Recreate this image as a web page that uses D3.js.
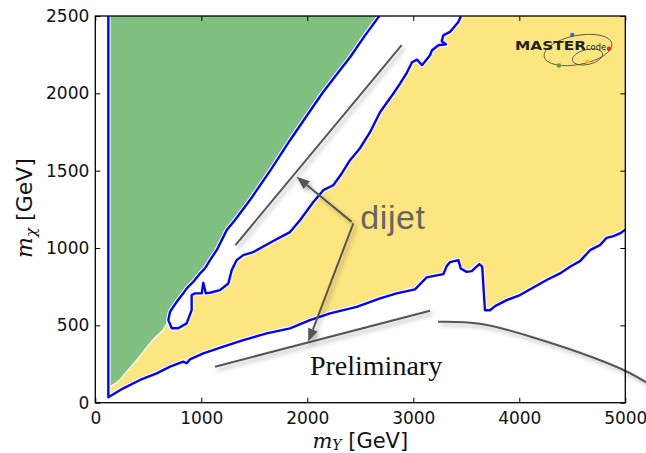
<!DOCTYPE html>
<html><head><meta charset="utf-8">
<script src="https://cdn.jsdelivr.net/npm/d3@7"></script>
<style>body{margin:0;background:#fff} svg{display:block}</style>
</head><body>
<script>
// ---------- data (GeV) ----------
const xTicks = [0, 1000, 2000, 3000, 4000, 5000];
const yTicks = [0, 500, 1000, 1500, 2000, 2500];

// vertical contour at m_Y ~ 123 GeV
const verticalEdge = [[123, 2500], [123, 35]];

// lower boundary of the yellow region (blue contour)
const lowerEdge = [[123,35],[264,93],[422,147],[579,190],[705,233],[830,265],[862,255],[893,280],
 [1019,319],[1208,362],[1396,405],[1617,448],[1837,481],[2025,534],[2214,578],[2466,620],
 [2686,674],[2843,707],[3016,733],[3126,810],[3283,831],[3315,883],[3347,909],[3425,922],
 [3447,868],[3504,846],[3551,851],[3623,896],[3650,880],[3676,598],[3724,598],[3771,624],
 [3881,663],[4007,696],[4132,745],[4258,793],[4384,836],[4478,879],[4573,915],[4667,986],
 [4761,1019],[4824,1066],[4887,1077],[4950,1094],[5000,1119]];

// white band: green-side contour (top -> bottom)
const bandGreenSide = [[2679,2500],[2540,2370],[2403,2233],[2275,2120],[2148,2007],[1990,1850],
 [1837,1697],[1650,1500],[1459,1310],[1318,1181],[1240,1116],[1208,1072],[1145,986],[1082,922],
 [1035,868],[988,836],[925,782],[862,739],[830,707],[768,652],[736,620],[705,588],[689,534]];
// bottom of the white hole
const bandBottom = [[721,481],[783,481],[862,513],[909,599],[909,696],[941,707],[1004,707],
 [1019,775],[1042,707],[1082,711],[1176,728],[1255,771],[1287,857],[1334,922],[1396,954]];
// yellow-side contour (bottom -> top)
const bandYellowSide = [[1491,974],[1679,1045],[1837,1103],[1931,1180],[2057,1297],[2151,1374],
 [2245,1406],[2325,1482],[2403,1568],[2497,1645],[2592,1749],[2686,1878],[2812,1999],[2875,2063],
 [2941,2136],[2988,2201],[3035,2218],[3082,2182],[3158,2246],[3177,2279],[3237,2311],[3308,2317],
 [3268,2337],[3283,2375],[3346,2397],[3425,2461],[3450,2500]];
// lower edge of the green region (no contour line)
const greenLowerEdge = [[689,534],[670,505],[640,470],[544,407],[393,278],[233,149],[190,125],[139,103],[123,103]];

// annotations (GeV coordinates)
const annoLines = [[[1322,1019],[2890,2311]], [[1129,233],[3158,594]]];
const arrows = [{from:[2419,1169], to:[1900,1460]}, {from:[2434,1159], to:[2009,394]}];
const annoArc = [[3233,523],[3629,510],[4101,428],[4572,323],[4978,213],[5230,118]];
const dijetPos = [2500,1122];
const prelimPos = [2025,179];

// ---------- chart ----------
const W = 646, H = 453;
const x = d3.scaleLinear().domain([0, 5000]).range([95.3, 625.3]);
const y = d3.scaleLinear().domain([0, 2500]).range([402.7, 16]);
const line = d3.line().x(d => x(d[0])).y(d => y(d[1]));

const svg = d3.select("body").append("svg").attr("width", W).attr("height", H);
const defs = svg.append("defs");
defs.append("clipPath").attr("id", "clip").append("rect")
  .attr("x", x(0)).attr("y", y(2500)).attr("width", x(5000) - x(0)).attr("height", y(0) - y(2500));
const f = defs.append("filter").attr("id", "shadow").attr("x", "-20%").attr("y", "-20%").attr("width", "140%").attr("height", "140%");
f.append("feDropShadow").attr("dx", 2.5).attr("dy", 3).attr("stdDeviation", 2)
  .attr("flood-color", "#000").attr("flood-opacity", 0.3);

const plot = svg.append("g").attr("clip-path", "url(#clip)");

// yellow region
plot.append("path").attr("d", line([...lowerEdge, [5000, 2500], [123, 2500]]) + "Z")
  .attr("fill", "#fde680");
// white band / hole
plot.append("path").attr("d", line([...bandGreenSide, ...bandBottom, ...bandYellowSide]) + "Z")
  .attr("fill", "#fff");
// green region
plot.append("path").attr("d", line([[123, 2500], ...bandGreenSide, ...greenLowerEdge.slice(1)]) + "Z")
  .attr("fill", "#80c080");
plot.append("path").attr("d", line(greenLowerEdge)).attr("fill", "none")
  .attr("stroke", "#fff").attr("stroke-width", 1.3);

// blue contours with white halo
const contours = [[...verticalEdge, ...lowerEdge.slice(1)], [...bandGreenSide, ...bandBottom, ...bandYellowSide]];
contours.forEach(c => {
  plot.append("path").attr("d", line(c)).attr("fill", "none").attr("stroke", "#fff")
    .attr("stroke-width", 4.5).attr("stroke-linejoin", "round");
});
contours.forEach(c => {
  plot.append("path").attr("d", line(c)).attr("fill", "none").attr("stroke", "#0000ff")
    .attr("stroke-width", 2.4).attr("stroke-linejoin", "round");
});

// ---------- logo ----------
const logo = svg.append("g");
logo.append("ellipse").attr("cx", 578).attr("cy", 50).attr("rx", 34.5).attr("ry", 14.5)
  .attr("transform", "rotate(-11 578 50)").attr("fill", "none").attr("stroke", "#5a5a40").attr("stroke-width", 0.9);
logo.append("ellipse").attr("cx", 587.5).attr("cy", 57).attr("rx", 15.5).attr("ry", 7.5)
  .attr("transform", "rotate(-13 587.5 57)").attr("fill", "none").attr("stroke", "#5a5a40").attr("stroke-width", 0.9);
const lt = logo.append("text").attr("x", 515).attr("y", 49.5).attr("font-family", "DejaVu Sans").attr("fill", "#222");
lt.append("tspan").attr("font-size", 12.5).attr("font-weight", "bold").attr("textLength", 71).attr("lengthAdjust", "spacingAndGlyphs").text("MASTER");
lt.append("tspan").attr("font-size", 8).attr("textLength", 20).attr("lengthAdjust", "spacingAndGlyphs").text("code");
[[572.3,35,"#3d6eb4"],[609,48.7,"#d8302c"],[559,65.5,"#5ea03c"],[587.7,61.7,"#f2c21c"]].forEach(d => {
  logo.append("circle").attr("cx", d[0]).attr("cy", d[1]).attr("r", 2.2).attr("fill", d[2]);
});

// ---------- annotations ----------
const anno = svg.append("g").attr("filter", "url(#shadow)");
annoLines.forEach(l => anno.append("path").attr("d", line(l)).attr("stroke", "#555").attr("stroke-width", 2).attr("fill", "none"));
anno.append("path").attr("d", d3.line().curve(d3.curveNatural).x(d => x(d[0])).y(d => y(d[1]))(annoArc))
  .attr("stroke", "#555").attr("stroke-width", 2).attr("fill", "none");
arrows.forEach(a => {
  const x0 = x(a.from[0]), y0 = y(a.from[1]), x1 = x(a.to[0]), y1 = y(a.to[1]);
  const ang = Math.atan2(y1 - y0, x1 - x0), L = 13, Wd = 5;
  const bx = x1 - L * Math.cos(ang), by = y1 - L * Math.sin(ang);
  anno.append("line").attr("x1", x0).attr("y1", y0).attr("x2", bx).attr("y2", by)
    .attr("stroke", "#555").attr("stroke-width", 2);
  const px = -Math.sin(ang) * Wd, py = Math.cos(ang) * Wd;
  anno.append("path").attr("d", `M${x1},${y1}L${bx + px},${by + py}L${bx - px},${by - py}Z`).attr("fill", "#555");
});
svg.append("text").attr("x", x(dijetPos[0])).attr("y", y(dijetPos[1]))
  .attr("font-family", "Liberation Sans, Arial, sans-serif").attr("font-size", 34).attr("letter-spacing", 0.6)
  .attr("fill", "#666").text("dijet");
svg.append("text").attr("x", x(prelimPos[0])).attr("y", y(prelimPos[1]))
  .attr("font-family", "Liberation Serif, serif").attr("font-size", 28)
  .attr("fill", "#111").text("Preliminary");

// ---------- axes ----------
const font = "DejaVu Sans";
const fmt = d3.format("d");
function styleAxis(g) {
  g.select(".domain").remove();
  g.selectAll(".tick line").attr("stroke", "#000").attr("stroke-width", 1);
  g.selectAll(".tick text").attr("font-family", font).attr("font-size", 17).attr("fill", "#111");
}
svg.append("g").attr("transform", `translate(0,${y(0)})`)
  .call(d3.axisBottom(x).tickValues(xTicks).tickFormat(fmt).tickSizeInner(-5).tickSizeOuter(0).tickPadding(9)).call(styleAxis);
svg.append("g").attr("transform", `translate(${x(0)},0)`)
  .call(d3.axisLeft(y).tickValues(yTicks).tickFormat(fmt).tickSizeInner(-5).tickSizeOuter(0).tickPadding(6)).call(styleAxis);
svg.append("g").attr("transform", `translate(0,${y(2500)})`)
  .call(d3.axisTop(x).tickValues(xTicks).tickSizeInner(-5).tickSizeOuter(0).tickFormat("")).call(styleAxis);
svg.append("g").attr("transform", `translate(${x(5000)},0)`)
  .call(d3.axisRight(y).tickValues(yTicks).tickSizeInner(-5).tickSizeOuter(0).tickFormat("")).call(styleAxis);
svg.append("rect").attr("x", x(0)).attr("y", y(2500)).attr("width", x(5000) - x(0)).attr("height", y(0) - y(2500))
  .attr("fill", "none").attr("stroke", "#000").attr("stroke-width", 1.3);

// axis titles
const xl = svg.append("text").attr("x", (x(0) + x(5000)) / 2).attr("y", 447.5).attr("text-anchor", "middle").attr("fill", "#111");
xl.append("tspan").attr("font-family", "DejaVu Serif").attr("font-style", "italic").attr("font-size", 21).text("m");
xl.append("tspan").attr("font-family", "DejaVu Serif").attr("font-style", "italic").attr("font-size", 14).attr("dy", 2).text("Y");
xl.append("tspan").attr("font-family", font).attr("font-size", 21).attr("dy", -2).text(" [GeV]");

const yl = svg.append("text").attr("transform", "translate(32,208) rotate(-90)").attr("text-anchor", "middle").attr("fill", "#111");
yl.append("tspan").attr("font-family", "DejaVu Serif").attr("font-style", "italic").attr("font-size", 22).text("m");
yl.append("tspan").attr("font-family", "DejaVu Serif").attr("font-style", "italic").attr("font-size", 15).attr("dy", 4).text("χ");
yl.append("tspan").attr("font-family", font).attr("font-size", 22).attr("dy", -4).text(" [GeV]");
</script>
</body></html>
